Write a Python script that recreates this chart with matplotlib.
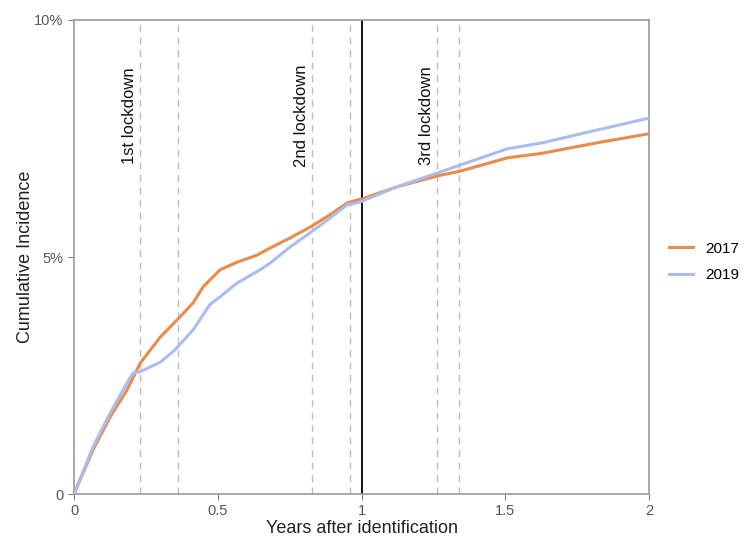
import numpy as np
import matplotlib
matplotlib.use("Agg")
import matplotlib.pyplot as plt

plt.rcParams['font.family'] = ['Liberation Sans', 'DejaVu Sans']

# cumulative incidence (%)
x_2017 = [0, 0.066, 0.125, 0.184, 0.23, 0.30, 0.358, 0.414, 0.449, 0.508,
          0.567, 0.637, 0.682, 0.751, 0.821, 0.89, 0.95, 0.984, 1.0, 1.123,
          1.263, 1.343, 1.506, 1.63, 1.82, 2.0]
y_2017 = [0, 0.93, 1.62, 2.19, 2.76, 3.31, 3.67, 4.03, 4.37, 4.73,
          4.89, 5.04, 5.19, 5.40, 5.63, 5.89, 6.14, 6.20, 6.22, 6.48,
          6.71, 6.81, 7.09, 7.19, 7.41, 7.60]

x_2019 = [0, 0.066, 0.125, 0.184, 0.205, 0.23, 0.30, 0.351, 0.414, 0.473, 0.508,
          0.567, 0.647, 0.682, 0.751, 0.821, 0.89, 0.95, 0.995, 1.123, 1.263,
          1.343, 1.506, 1.63, 1.82, 2.0]
y_2019 = [0, 0.99, 1.70, 2.34, 2.55, 2.58, 2.78, 3.04, 3.46, 4.00, 4.16,
          4.45, 4.73, 4.87, 5.21, 5.51, 5.82, 6.10, 6.16, 6.48, 6.77,
          6.94, 7.28, 7.41, 7.68, 7.93]

lockdowns = [0.23, 0.362, 0.828, 0.96, 1.263, 1.339]
lockdown_labels = ["1st lockdown", "2nd lockdown", "3rd lockdown"]

fig = plt.figure(figsize=(7.49, 5.46), dpi=100)
ax = fig.add_axes([0.0988, 0.0952, 0.7677, 0.8682])

for xv in lockdowns:
    ax.axvline(xv, color='#bdbdbd', lw=1.0, ls=(0, (5, 4)), zorder=1)
ax.axvline(1.0, color='black', lw=1.3, zorder=2)

ax.plot(x_2017, y_2017, color='#EE8A48', lw=2.2, label='2017', zorder=3)
ax.plot(x_2019, y_2019, color='#A9BDF0', lw=2.2, label='2019', zorder=3)

for i, lab in enumerate(lockdown_labels):
    ax.text(lockdowns[2 * i] - 0.012, 7.98, lab, rotation=90, ha='right',
            va='center', fontsize=12, color='#111111')

ax.set_xlim(0, 2)
ax.set_ylim(0, 10)
ax.set_xticks([0, 0.5, 1, 1.5, 2])
ax.set_xticklabels(['0', '0.5', '1', '1.5', '2'])
ax.set_yticks([0, 5, 10])
ax.set_yticklabels(['0', '5%', '10%'])
ax.tick_params(colors='#7f7f7f', labelcolor='#555555', labelsize=10.5, length=4)
for s in ax.spines.values():
    s.set_color('#9a9a9a')
    s.set_linewidth(1.2)

ax.set_xlabel('Years after identification', fontsize=13, color='#222222', labelpad=1)
ax.set_ylabel('Cumulative Incidence', fontsize=13, color='#222222', labelpad=0)

ax.legend(loc='center left', bbox_to_anchor=(1.01, 0.49), frameon=False,
          fontsize=11, handlelength=1.6, labelspacing=0.8)

fig.savefig('out.png', dpi=100)
